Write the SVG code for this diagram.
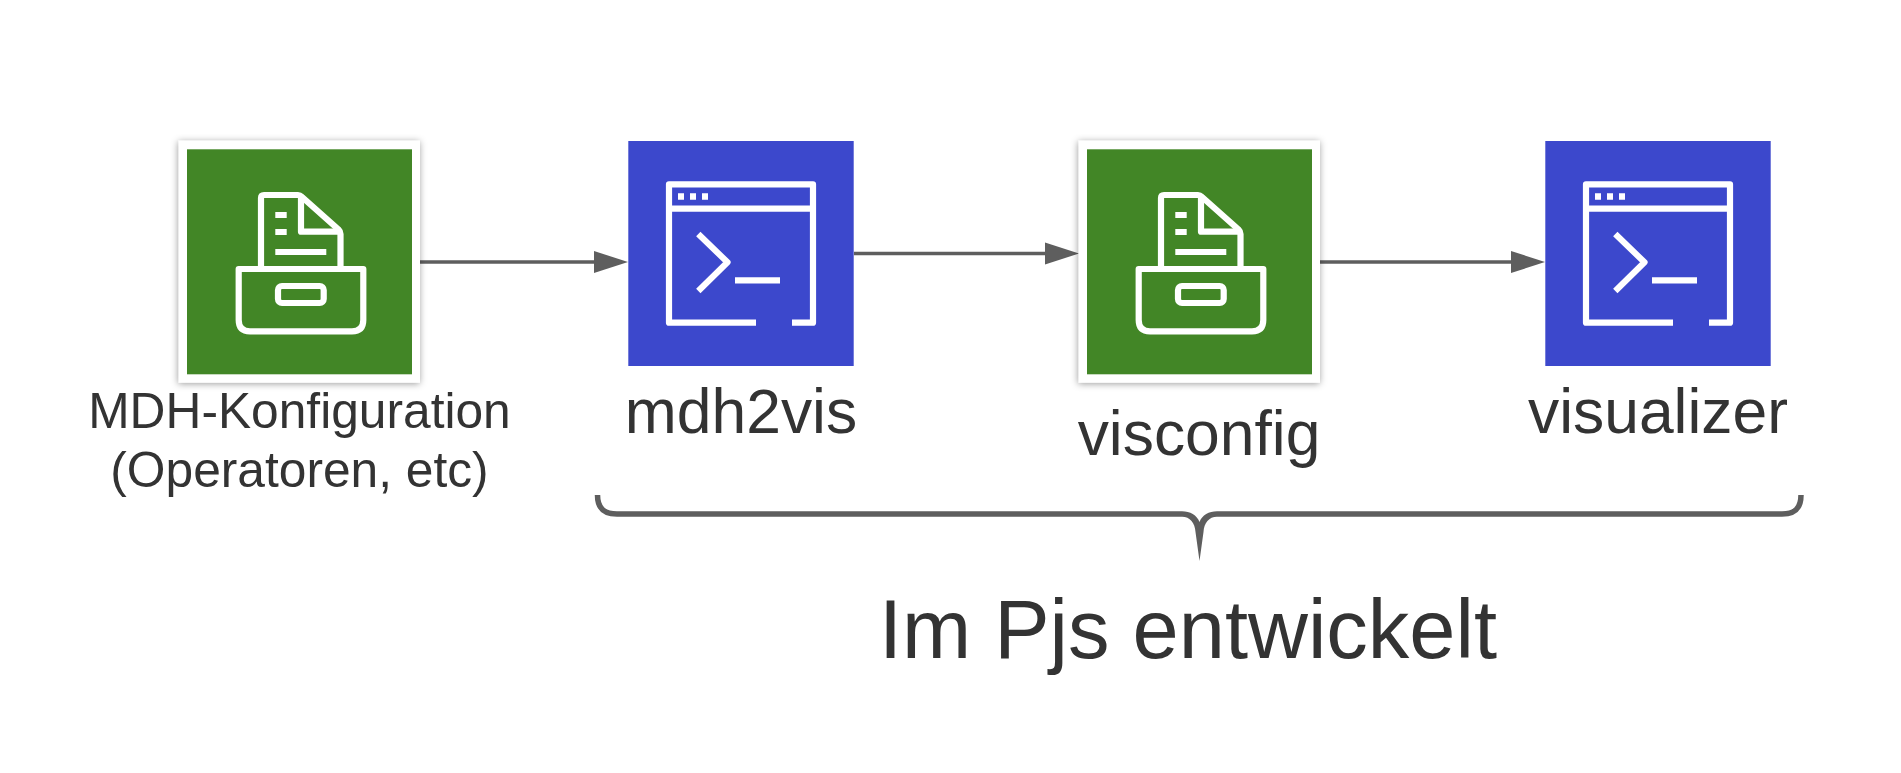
<svg xmlns="http://www.w3.org/2000/svg" width="1901" height="773" viewBox="0 0 1901 773">
<style>
.t{font-family:"Liberation Sans",Arial,sans-serif;fill:#333;text-anchor:middle}
.ic{fill:none;stroke:#fff;stroke-width:6.2;stroke-linejoin:round}
.cn{fill:none;stroke:#5e5e5e;stroke-width:3.5}
.br{fill:none;stroke:#5e5e5e;stroke-width:5.5}
</style>
<defs>
<filter id="sh" x="-10%" y="-10%" width="120%" height="120%"><feDropShadow dx="-0.5" dy="1" stdDeviation="3.5" flood-color="#000" flood-opacity="0.4"/></filter>
<marker id="ah" markerUnits="userSpaceOnUse" markerWidth="34" markerHeight="24" refX="24" refY="12" orient="auto"><path d="M0 1 L34 12 L0 23 Z" fill="#5e5e5e"/></marker>
<g id="store">
<rect x="178.7" y="140.7" width="241.3" height="242" fill="#fff" filter="url(#sh)"/>
<rect x="187" y="149.3" width="225" height="225" fill="#428626"/>
<path class="ic" d="M261 269 V198 Q261 195 264 195 H298 Q300 195 302 197 L338.500 229.500 Q340.500 231.500 340.500 234 V269"/>
<path class="ic" d="M301 195 V231.700 H340.500"/>
<path class="ic" d="M275.300 215 H286.700 M275.300 232 H286.700 M275.300 252 H326.300"/>
<path class="ic" d="M238.700 269 H363.300 V320 Q363.300 331.300 352 331.300 H250 Q238.700 331.300 238.700 320 Z"/>
<rect class="ic" x="278" y="286" width="45.700" height="17" rx="4"/>
</g>
<g id="term">
<rect x="628.300" y="141" width="225.400" height="225" fill="#3c48cc"/>
<path class="ic" d="M756 322.700 H669 V184.300 H813 V322.700 H792"/>
<path class="ic" d="M669 208.700 H813"/>
<path d="M678 193.300 h6 v6.400 h-6 Z M690 193.300 h6 v6.400 h-6 Z M702 193.300 h6 v6.400 h-6 Z" fill="#fff"/>
<path class="ic" d="M698.300 234 L727.500 262.300 L698.300 291"/>
<path class="ic" d="M735 280.300 H780"/>
</g>
</defs>
<rect width="1901" height="773" fill="#fff"/>
<g id="connectors">
<path class="cn" d="M420 262 H618" marker-end="url(#ah)"/>
<path class="cn" d="M854 253.500 H1069" marker-end="url(#ah)"/>
<path class="cn" d="M1320 262 H1535" marker-end="url(#ah)"/>
<path class="br" d="M597.500 495 C597.500 508 604 514 617 514 H1182"/>
<path class="br" d="M1217 514 H1782 C1795 514 1801 508 1801 495"/>
<path d="M1182 511.200 C1190 511.200 1197 515 1199.500 522 C1202 515 1209 511.200 1217 511.200 V516.800 C1209 516.800 1204 523 1203.500 532 L1199.500 561 L1195.500 532 C1195 523 1190 516.800 1182 516.800 Z" fill="#5e5e5e"/>
</g>
<g id="node-mdh">
<use href="#store"/>
<text class="t" x="299.500" y="428" font-size="49.700">MDH-Konfiguration</text>
<text class="t" x="299.500" y="487" font-size="49.700">(Operatoren, etc)</text>
</g>
<g id="node-mdh2vis">
<use href="#term"/>
<text class="t" x="741" y="433" font-size="62.400">mdh2vis</text>
</g>
<g id="node-visconfig">
<use href="#store" x="900"/>
<text class="t" x="1199" y="454.500" font-size="62.400">visconfig</text>
</g>
<g id="node-visualizer">
<use href="#term" x="917"/>
<text class="t" x="1658" y="433" font-size="62.400">visualizer</text>
</g>
<g id="label">
<text class="t" x="1188" y="658" font-size="83">Im Pjs entwickelt</text>
</g>
</svg>
